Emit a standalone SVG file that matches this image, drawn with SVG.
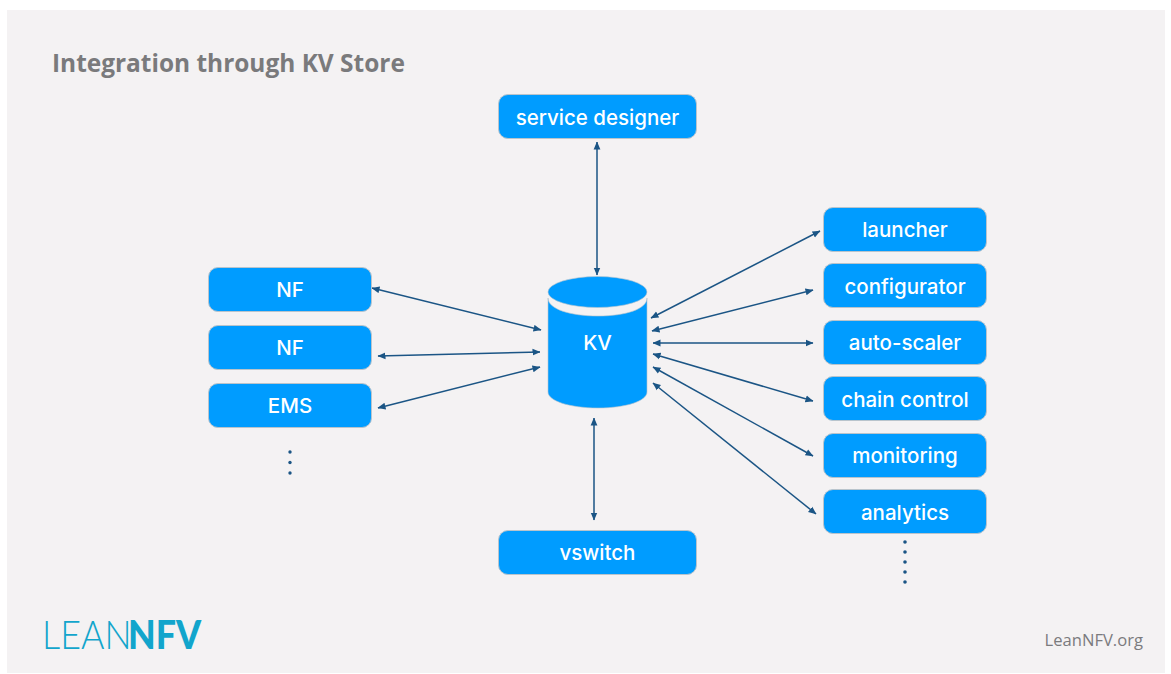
<svg xmlns="http://www.w3.org/2000/svg" width="1171" height="674" viewBox="0 0 1171 674">
<style>
.b{fill:#009cff;stroke:#b9c4cc;stroke-width:1}
.l{font-family:Inter,"Liberation Sans",sans-serif;font-weight:500;font-size:20.500px;fill:#fff;text-anchor:middle}
.c{fill:none;stroke:#1b5585;stroke-width:1.500;marker-start:url(#a);marker-end:url(#a)}
.d{fill:#1b5585}
</style>
<defs><marker id="a" viewBox="0 0 8 8" refX="7.5" refY="4" markerWidth="8" markerHeight="8" markerUnits="userSpaceOnUse" orient="auto-start-reverse"><path d="M0 .6L8 4L0 7.4z" fill="#1b5585"/></marker></defs>
<rect width="1171" height="674" fill="#fff"/>
<rect x="7" y="10" width="1158" height="663" fill="#f4f2f3"/>
<text x="52" y="72" font-family="'Open Sans',sans-serif" font-weight="700" font-size="24.450px" fill="#7a7a7c">Integration through KV Store</text>
<g id="connectors">
<path class="c" d="M597 142V275"/>
<path class="c" d="M372 288L541 330"/>
<path class="c" d="M378 356L540 352"/>
<path class="c" d="M378 408L540 367"/>
<path class="c" d="M594 418V520"/>
<path class="c" d="M651 318L820 231"/>
<path class="c" d="M652 331L813 290"/>
<path class="c" d="M653 343H813"/>
<path class="c" d="M653 354L813 401"/>
<path class="c" d="M653 367L813 456"/>
<path class="c" d="M653 383L816 514"/>
</g>
<g id="service-designer"><rect class="b" x="498.500" y="94.500" width="198" height="44" rx="9.500"/><text class="l" x="597.500" y="125">service designer</text></g>
<g id="vswitch"><rect class="b" x="498.500" y="530.500" width="198" height="44" rx="9.500"/><text class="l" x="597.500" y="560">vswitch</text></g>
<g id="nf1"><rect class="b" x="208.500" y="267.500" width="163" height="44" rx="9.500"/><text class="l" x="290" y="297">NF</text></g>
<g id="nf2"><rect class="b" x="208.500" y="325.500" width="163" height="44" rx="9.500"/><text class="l" x="290" y="355">NF</text></g>
<g id="ems"><rect class="b" x="208.500" y="383.500" width="163" height="44" rx="9.500"/><text class="l" x="290" y="413">EMS</text></g>
<g id="launcher"><rect class="b" x="823.500" y="207.500" width="163" height="44" rx="9.500"/><text class="l" x="905" y="237">launcher</text></g>
<g id="configurator"><rect class="b" x="823.500" y="263.500" width="163" height="44" rx="9.500"/><text class="l" x="905" y="294">configurator</text></g>
<g id="auto-scaler"><rect class="b" x="823.500" y="320.500" width="163" height="44" rx="9.500"/><text class="l" x="905" y="350">auto-scaler</text></g>
<g id="chain-control"><rect class="b" x="823.500" y="376.500" width="163" height="44" rx="9.500"/><text class="l" x="905" y="407">chain control</text></g>
<g id="monitoring"><rect class="b" x="823.500" y="433.500" width="163" height="44" rx="9.500"/><text class="l" x="905" y="463">monitoring</text></g>
<g id="analytics"><rect class="b" x="823.500" y="489.500" width="163" height="44" rx="9.500"/><text class="l" x="905" y="520">analytics</text></g>
<g id="kv">
<path d="M548 298V392C548 401 570 408 598 408C626 408 647 401 647 392V298C647 309 626 316 598 316C570 316 548 309 548 298Z" fill="#009cff" stroke="#b9c4cc" stroke-width=".6"/>
<ellipse cx="597.500" cy="292" rx="49.500" ry="15.500" fill="#009cff" stroke="#b9c4cc" stroke-width=".6"/>
<text class="l" x="597.500" y="350">KV</text>
</g>
<g class="d"><circle cx="290" cy="452" r="1.700"/><circle cx="290" cy="462.500" r="1.700"/><circle cx="290" cy="473" r="1.700"/>
<circle cx="905" cy="542" r="1.800"/><circle cx="905" cy="552" r="1.800"/><circle cx="905" cy="562" r="1.800"/><circle cx="905" cy="572" r="1.800"/><circle cx="905" cy="582" r="1.800"/></g>
<g id="logo" font-family="Lato,sans-serif" font-size="39px" fill="#12a5cc"><text transform="translate(42 649) scale(.92 1)" font-weight="300">LEAN</text><text transform="translate(128 649) scale(.92 1)" font-weight="900">NFV</text></g>
<text x="1143" y="646" text-anchor="end" font-family="'Open Sans',sans-serif" font-size="16.600px" fill="#7b7b7e">LeanNFV.org</text>
</svg>
